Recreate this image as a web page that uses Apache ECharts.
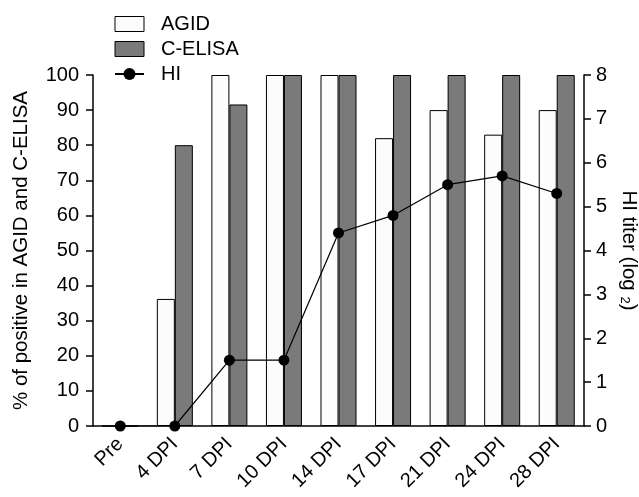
<!DOCTYPE html>
<html>
<head>
<meta charset="utf-8">
<script src="https://cdn.jsdelivr.net/npm/echarts@6/dist/echarts.min.js"></script>
<style>
  html, body { margin: 0; padding: 0; background: #fff; }
  #chart { width: 639px; height: 497px; }
</style>
</head>
<body>
<div id="chart"></div>
<script>
// days post infection
const days = ['Pre', '4 DPI', '7 DPI', '10 DPI', '14 DPI', '17 DPI', '21 DPI', '24 DPI', '28 DPI'];
// % positive
const agid = [0, 36.2, 100, 100, 100, 82, 90, 83, 90];
const cElisa = [0, 80, 91.6, 100, 100, 100, 100, 100, 100];
// HI titer, log2
const hiTiter = [0, 0, 1.5, 1.5, 4.4, 4.8, 5.5, 5.7, 5.3];

const chart = echarts.init(document.getElementById('chart'));
const font = 'Liberation Sans, Arial, sans-serif';

chart.setOption({
    animation: false,
    textStyle: { fontFamily: font, color: '#000' },
    grid: { left: 93, right: 55, top: 75, bottom: 71, containLabel: false, outerBoundsMode: 'none' },
    legend: {
        orient: 'vertical',
        left: 114,
        top: 14,
        padding: 0,
        itemWidth: 29,
        itemHeight: 15,
        itemGap: 5,
        textStyle: { fontFamily: font, fontSize: 20, color: '#000', padding: [0, 0, 0, 12] },
        data: [
            { name: 'AGID', icon: 'rect', itemStyle: { color: '#fcfcfc', borderColor: '#000', borderWidth: 1 } },
            { name: 'C-ELISA', icon: 'rect', itemStyle: { color: '#7a7a7a', borderColor: '#000', borderWidth: 1 } },
            { name: 'HI' }
        ]
    },
    xAxis: {
        type: 'category',
        data: days,
        axisLine: { lineStyle: { color: '#000', width: 1.5 } },
        axisTick: { length: 7, lineStyle: { color: '#000', width: 1.5 } },
        axisLabel: { rotate: 45, fontSize: 20, color: '#000', margin: 15, interval: 0 }
    },
    yAxis: [
        {
            type: 'value',
            min: 0, max: 100, interval: 10,
            name: '% of positive in AGID and C-ELISA',
            nameLocation: 'middle',
            nameGap: 61,
            nameTextStyle: { fontSize: 20.5, color: '#000' },
            axisLine: { show: true, lineStyle: { color: '#000', width: 1.5 } },
            axisTick: { show: true, length: 7, lineStyle: { color: '#000', width: 1.5 } },
            axisLabel: { fontSize: 20, color: '#000', margin: 14 },
            splitLine: { show: false }
        },
        {
            type: 'value',
            min: 0, max: 8, interval: 1,
            position: 'right',
            name: '{n|HI titer (log }{s|2}{n|)}',
            nameLocation: 'middle',
            nameRotate: -90,
            nameGap: 30,
            nameTextStyle: {
                rich: {
                    n: { fontSize: 20.5, color: '#000', fontFamily: font },
                    s: { fontSize: 13, color: '#000', fontFamily: font, verticalAlign: 'bottom', padding: [7, 0, 0, 0] }
                }
            },
            axisLine: { show: true, lineStyle: { color: '#000', width: 1.5 } },
            axisTick: { show: true, length: 7, lineStyle: { color: '#000', width: 1.5 } },
            axisLabel: { fontSize: 20, color: '#000', margin: 12 },
            splitLine: { show: false }
        }
    ],
    series: [
        {
            name: 'AGID',
            type: 'bar',
            data: agid,
            barWidth: 18,
            barGap: '0%',
            itemStyle: { color: '#fcfcfc', borderColor: '#000', borderWidth: 1 }
        },
        {
            name: 'C-ELISA',
            type: 'bar',
            data: cElisa,
            barWidth: 18,
            itemStyle: { color: '#7a7a7a', borderColor: '#000', borderWidth: 1 }
        },
        {
            name: 'HI',
            type: 'line',
            yAxisIndex: 1,
            data: hiTiter,
            symbol: 'circle',
            symbolSize: 11,
            itemStyle: { color: '#000' },
            lineStyle: { color: '#000', width: 1.2 },
            z: 5
        }
    ]
});
</script>
</body>
</html>
